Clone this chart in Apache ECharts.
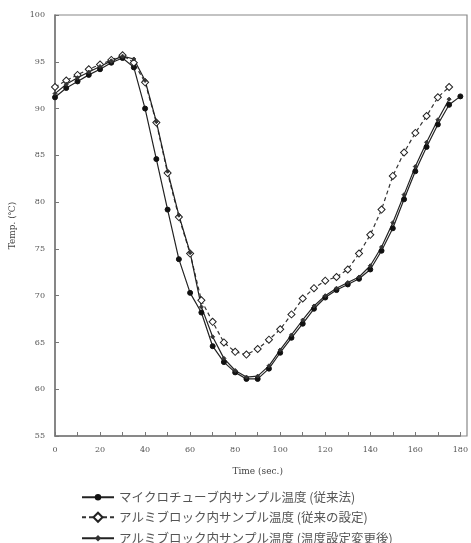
<!DOCTYPE html>
<html><head><meta charset="utf-8">
<script src="https://cdn.jsdelivr.net/npm/echarts@6/dist/echarts.min.js"></script>
<style>html,body{margin:0;padding:0;background:#fff}#c{width:471px;height:543px}</style>
</head><body><div id="c"></div>
<script>
const times = [0,5,10,15,20,25,30,35,40,45,50,55,60,65,70,75,80,85,90,95,100,105,110,115,120,125,130,135,140,145,150,155,160,165,170,175,180];
const microtube = [91.2,92.2,92.9,93.6,94.2,94.9,95.4,94.4,90.0,84.6,79.2,73.9,70.3,68.2,64.6,62.9,61.8,61.1,61.1,62.2,63.9,65.5,67.0,68.6,69.8,70.6,71.2,71.8,72.8,74.8,77.2,80.3,83.3,85.9,88.3,90.4,91.3];
const blockOld = [92.3,93.0,93.6,94.2,94.7,95.2,95.7,94.9,92.8,88.5,83.1,78.4,74.5,69.5,67.2,65.0,64.0,63.7,64.3,65.3,66.4,68.0,69.7,70.8,71.6,72.0,72.8,74.5,76.5,79.2,82.8,85.3,87.4,89.2,91.2,92.3,null];
const blockNew = [91.6,92.6,93.3,93.9,94.5,95.1,95.6,95.3,93.0,88.6,83.3,78.6,74.6,68.8,65.6,63.3,62.0,61.3,61.4,62.5,64.2,65.8,67.4,68.9,70.0,70.8,71.4,72.0,73.2,75.2,77.8,80.8,83.8,86.4,88.8,91.0,null];
const names = ['マイクロチューブ内サンプル温度 (従来法)','アルミブロック内サンプル温度 (従来の設定)','アルミブロック内サンプル温度 (温度設定変更後)'];
const xTicks = [0,20,40,60,80,100,120,140,160,180];

const pair = arr => times.map((t,i)=>[t,arr[i]]).filter(p=>p[1]!=null);
const chart = echarts.init(document.getElementById('c'));
const lab = {fontFamily:'DejaVu Serif',fontSize:8,color:'#555'};
const legTops = [486,506,527];
chart.setOption({
  animation:false,
  grid:{left:55,right:4,top:15,bottom:107},
  xAxis:{type:'value',min:0,max:180,interval:10,
    name:'Time (sec.)',nameLocation:'middle',nameGap:31,
    nameTextStyle:{fontFamily:'DejaVu Serif',fontSize:9,color:'#444'},
    axisLine:{lineStyle:{color:'#777',width:1.5}},
    axisTick:{inside:true,length:4,lineStyle:{color:'#777'}},
    axisLabel:Object.assign({margin:10,formatter:v=>xTicks.includes(v)?String(v):''},lab),
    splitLine:{show:false}},
  yAxis:{type:'value',min:55,max:100,interval:5,
    name:'Temp. (℃)',nameLocation:'middle',nameGap:38,
    nameTextStyle:{fontFamily:'DejaVu Serif',fontSize:9,color:'#444'},
    axisLine:{lineStyle:{color:'#777',width:1.5}},
    axisTick:{inside:true,length:4,lineStyle:{color:'#777'}},
    axisLabel:Object.assign({margin:10},lab),
    splitLine:{show:false}},
  legend:names.map((n,i)=>({left:76,top:legTops[i],itemWidth:32,itemHeight:8,itemGap:6,
    textStyle:{fontFamily:'Noto Sans CJK JP',fontSize:12.5,color:'#555'},data:[n]})),
  series:[
    {name:names[0],type:'line',data:pair(microtube),symbol:'circle',symbolSize:5,
      lineStyle:{color:'#222',width:1.2},itemStyle:{color:'#111',borderColor:'#111'}},
    {name:names[1],type:'line',data:pair(blockOld),symbol:'rect',symbolRotate:45,symbolSize:5,
      lineStyle:{color:'#333',width:1.2,type:[4,3]},itemStyle:{color:'#fff',borderColor:'#222',borderWidth:1}},
    {name:names[2],type:'line',data:pair(blockNew),symbol:'diamond',symbolSize:4,
      lineStyle:{color:'#222',width:1.2},itemStyle:{color:'#333',borderColor:'#333'}}
  ],
  graphic:[{type:'rect',shape:{x:55,y:15,width:412,height:421},style:{fill:'none',stroke:'#888',lineWidth:1.2},silent:true}]
});
</script></body></html>
